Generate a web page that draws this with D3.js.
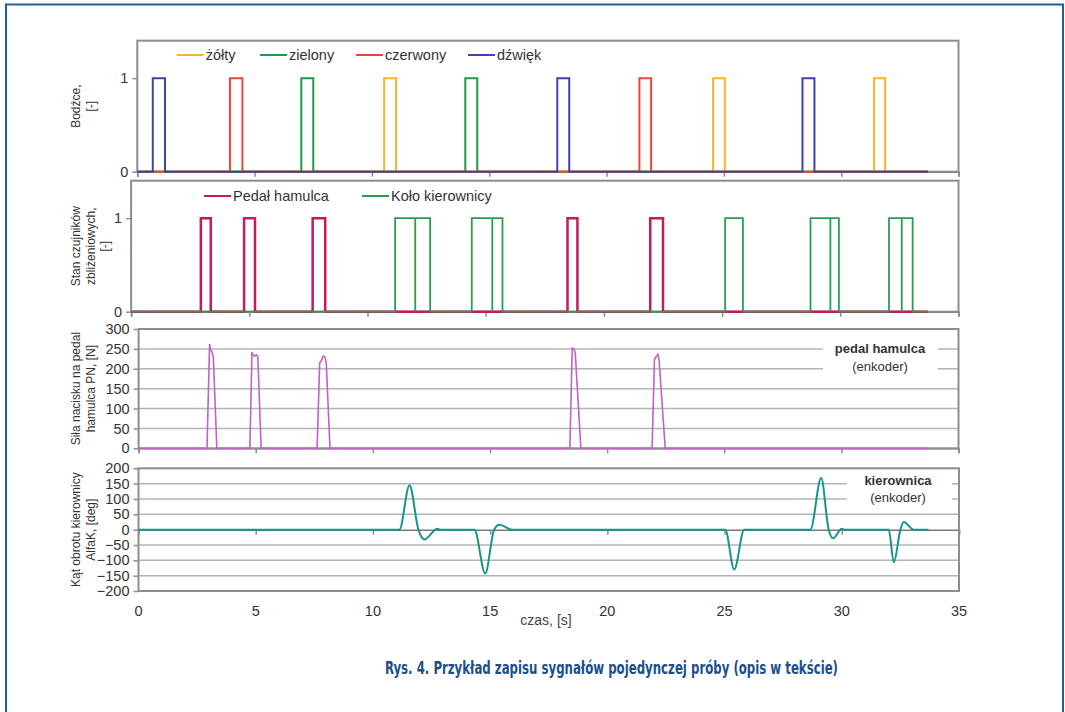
<!DOCTYPE html>
<html>
<head>
<meta charset="utf-8">
<script src="https://cdn.jsdelivr.net/npm/d3@7"></script>
<style>
  body { margin: 0; background: #fff; }
  svg { display: block; font-family: "Liberation Sans", Arial, sans-serif; }
</style>
</head>
<body>
<div id="chart"></div>
<script>
// ---- data ----
const timeEnd = 33.7;
const xTicks = [0, 5, 10, 15, 20, 25, 30, 35];

// stimuli pulses [start, end] in s
const zoltyPulses = [[10.52, 11.03], [24.54, 25.04], [31.40, 31.87]];
const zielonyPulses = [[6.99, 7.50], [13.98, 14.49]];
const czerwonyPulses = [[3.95, 4.48], [21.40, 21.90]];
const dzwiekPulses = [[0.66, 1.18], [17.90, 18.41], [28.35, 28.86]];

// proximity sensors
const pedalPulses = [[2.95, 3.37], [4.78, 5.24], [7.68, 8.21], [18.46, 18.88], [21.96, 22.50]];
const koloPulses = [[11.17, 12.02], [12.02, 12.65], [14.41, 15.28], [15.28, 15.71], [25.13, 25.88],
                    [28.74, 29.58], [29.58, 29.94], [32.06, 32.60], [32.60, 33.06]];

// brake pedal force [t, N]
const pedalForce = [
  [0, 0],
  [2.92, 0], [3.03, 262], [3.07, 248], [3.12, 244], [3.19, 230], [3.34, 0],
  [4.75, 0], [4.84, 242], [4.88, 235], [4.95, 232], [5.03, 235], [5.09, 230], [5.23, 0],
  [7.62, 0], [7.73, 215], [7.80, 220], [7.88, 232], [7.95, 230], [8.01, 215], [8.17, 0],
  [18.41, 0], [18.51, 252], [18.58, 250], [18.64, 240], [18.88, 0],
  [21.92, 0], [22.02, 222], [22.06, 228], [22.12, 232], [22.17, 236], [22.22, 222], [22.48, 0],
  [33.7, 0]
];

// steering wheel angle [t, deg]
const steerAngle = [
  [0, 0],
  [11.13, 0], [11.56, 145], [11.94, 0], [12.19, -32], [12.75, 3], [12.85, 0],
  [14.33, 0], [14.79, -143], [15.17, 0], [15.40, 16], [15.93, 0],
  [25.03, 0], [25.41, -130], [25.84, 0],
  [28.66, 0], [29.12, 168], [29.44, 0], [29.63, -28], [30.0, 3], [30.1, 0],
  [32.0, 0], [32.22, -106], [32.50, 0], [32.64, 25], [33.07, 0],
  [33.7, 0]
];

const forceTicks = [0, 50, 100, 150, 200, 250, 300];
const angleTicks = [-200, -150, -100, -50, 0, 50, 100, 150, 200];

// ---- page ----
const W = 1065, H = 712;
const svg = d3.select("#chart").append("svg").attr("width", W).attr("height", H);

svg.append("rect").attr("x", 6).attr("y", 4.5).attr("width", 1057).attr("height", 720)
  .attr("fill", "none").attr("stroke", "#1f5da3").attr("stroke-width", 2);

const boxColor = "#8d8d8d", gridColor = "#b4b4b4", textColor = "#333";

function stepPoints(pulses) {
  const pts = [[0, 0]];
  pulses.forEach(p => { pts.push([p[0], 0], [p[0], 1], [p[1], 1], [p[1], 0]); });
  pts.push([timeEnd, 0]);
  return pts;
}

function panel(o) {
  const x = d3.scaleLinear().domain([0, 35]).range([o.x0, o.x1]);
  const y = d3.scaleLinear().domain(o.yDomain).range([o.bottom, o.top]);
  const g = svg.append("g");

  if (o.grid) {
    g.selectAll(".grid").data(o.grid).enter().append("line")
      .attr("x1", o.x0).attr("x2", o.x1)
      .attr("y1", d => y(d)).attr("y2", d => y(d))
      .attr("stroke", gridColor).attr("stroke-width", 1.5);
  }
  // y axis
  const ya = g.append("g").attr("transform", `translate(${o.x0},0)`)
    .call(d3.axisLeft(y).tickValues(o.yTicks).tickSize(5).tickPadding(4).tickFormat(d3.format("d")));
  ya.select(".domain").remove();
  ya.selectAll("line").attr("stroke", boxColor).attr("stroke-width", 1.5);
  ya.selectAll("text").attr("fill", textColor).style("font-size", "14.5px");

  // x axis ticks
  const xAxisY = o.xAxisAt !== undefined ? y(o.xAxisAt) : o.bottom;
  const xa = g.append("g").attr("transform", `translate(0,${xAxisY})`)
    .call(d3.axisBottom(x).tickValues(xTicks).tickSize(5).tickFormat(""));
  xa.select(".domain").attr("stroke", "#7a7a7a").attr("stroke-width", 1.5);
  xa.selectAll("line").attr("stroke", boxColor).attr("stroke-width", 1.5);

  // box
  g.append("rect").attr("x", o.x0).attr("y", o.top)
    .attr("width", o.x1 - o.x0).attr("height", o.bottom - o.top)
    .attr("fill", "none").attr("stroke", boxColor).attr("stroke-width", 2);

  // y title
  const tt = g.append("text").attr("transform", `translate(${o.titleX},${(o.top + o.bottom) / 2}) rotate(-90)`)
    .attr("text-anchor", "middle").attr("fill", textColor).style("font-size", "12px");
  o.title.forEach((t, i) => tt.append("tspan").attr("x", 0).attr("dy", i === 0 ? 0 : 14.5).text(t));

  return { g, x, y };
}

const lineGen = (p, curve) => d3.line().x(d => p.x(d[0])).y(d => p.y(d[1])).curve(curve || d3.curveLinear);

function legendItem(g, x, y, color, label) {
  g.append("line").attr("x1", x).attr("x2", x + 27).attr("y1", y).attr("y2", y)
    .attr("stroke", color).attr("stroke-width", 2);
  g.append("text").attr("x", x + 29).attr("y", y + 5).attr("fill", textColor)
    .style("font-size", "14.5px").text(label);
}

// ---- panel 1: stimuli ----
const p1 = panel({ x0: 137.3, x1: 958.5, top: 40.7, bottom: 171.7, yDomain: [0, 1.4], yTicks: [0, 1],
  title: ["Bodźce,", "[-]"], titleX: 80 });
const stimuli = [
  { name: "żółty", pulses: zoltyPulses, color: "#fbb32b", lx: 176.7 },
  { name: "zielony", pulses: zielonyPulses, color: "#1f9a49", lx: 260 },
  { name: "czerwony", pulses: czerwonyPulses, color: "#ee4538", lx: 356 },
  { name: "dźwięk", pulses: dzwiekPulses, color: "#3d45a9", lx: 468 }
];
stimuli.forEach(s => {
  p1.g.append("path").datum(stepPoints(s.pulses)).attr("d", lineGen(p1))
    .attr("fill", "none").attr("stroke", s.color).attr("stroke-width", 2);
  legendItem(p1.g, s.lx, 55, s.color, s.name);
});

// ---- panel 2: proximity sensors ----
const p2 = panel({ x0: 131.1, x1: 958.5, top: 180.7, bottom: 311.7, yDomain: [0, 1.4], yTicks: [0, 1],
  title: ["Stan czujników", "zbliżeniowych,", "[-]"], titleX: 80 });
const sensors = [
  { name: "Pedał hamulca", pulses: pedalPulses, color: "#c41a5e", lx: 204, w: 2.5 },
  { name: "Koło kierownicy", pulses: koloPulses, color: "#2b9d4d", lx: 362, w: 1.8 }
];
sensors.forEach(s => {
  p2.g.append("path").datum(stepPoints(s.pulses)).attr("d", lineGen(p2))
    .attr("fill", "none").attr("stroke", s.color).attr("stroke-width", s.w);
  legendItem(p2.g, s.lx, 196, s.color, s.name);
});

// ---- panel 3: brake pedal force ----
const p3 = panel({ x0: 138.6, x1: 958.5, top: 329, bottom: 448.3, yDomain: [0, 300], yTicks: forceTicks,
  grid: forceTicks.slice(1, -1), title: ["Siła nacisku na pedal", "hamulca PN, [N]"], titleX: 80 });
p3.g.append("rect").attr("x", 823).attr("y", 340).attr("width", 115).attr("height", 34).attr("fill", "#fff");
p3.g.append("text").attr("x", 880).attr("y", 353).attr("text-anchor", "middle").attr("fill", textColor)
  .style("font-size", "13px").style("font-weight", "bold").text("pedal hamulca");
p3.g.append("text").attr("x", 880).attr("y", 371).attr("text-anchor", "middle").attr("fill", textColor)
  .style("font-size", "13px").text("(enkoder)");
p3.g.append("path").datum(pedalForce).attr("d", lineGen(p3))
  .attr("fill", "none").attr("stroke", "#c062c6").attr("stroke-width", 1.6);

// ---- panel 4: steering angle ----
const p4 = panel({ x0: 138.5, x1: 959, top: 468.3, bottom: 591, yDomain: [-200, 200], yTicks: angleTicks,
  grid: angleTicks.slice(1, -1).filter(d => d !== 0), xAxisAt: 0,
  title: ["Kąt obrotu kierownicy", "AlfaK, [deg]"], titleX: 80 });
p4.g.append("rect").attr("x", 847).attr("y", 472).attr("width", 105).attr("height", 34).attr("fill", "#fff");
p4.g.append("text").attr("x", 898).attr("y", 485).attr("text-anchor", "middle").attr("fill", textColor)
  .style("font-size", "13px").style("font-weight", "bold").text("kierownica");
p4.g.append("text").attr("x", 898).attr("y", 502).attr("text-anchor", "middle").attr("fill", textColor)
  .style("font-size", "13px").text("(enkoder)");
p4.g.append("path").datum(steerAngle).attr("d", lineGen(p4, d3.curveMonotoneX))
  .attr("fill", "none").attr("stroke", "#15968a").attr("stroke-width", 2);

// x tick labels under the last panel
p4.g.selectAll(".xl").data(xTicks).enter().append("text")
  .attr("x", d => p4.x(d)).attr("y", 616).attr("text-anchor", "middle")
  .attr("fill", textColor).style("font-size", "14.5px").text(d => d);
p4.g.append("text").attr("x", 546).attr("y", 625).attr("text-anchor", "middle")
  .attr("fill", "#444").style("font-size", "14px").text("czas, [s]");

// ---- caption ----
svg.append("text").attr("x", 611.5).attr("y", 674).attr("text-anchor", "middle")
  .attr("fill", "#1b4f8c").style("font-family", "'DejaVu Sans Condensed', 'Roboto', sans-serif")
  .style("font-weight", "bold").style("font-size", "17px")
  .attr("textLength", 453).attr("lengthAdjust", "spacingAndGlyphs")
  .text("Rys. 4. Przykład zapisu sygnałów pojedynczej próby (opis w tekście)");
</script>
</body>
</html>
